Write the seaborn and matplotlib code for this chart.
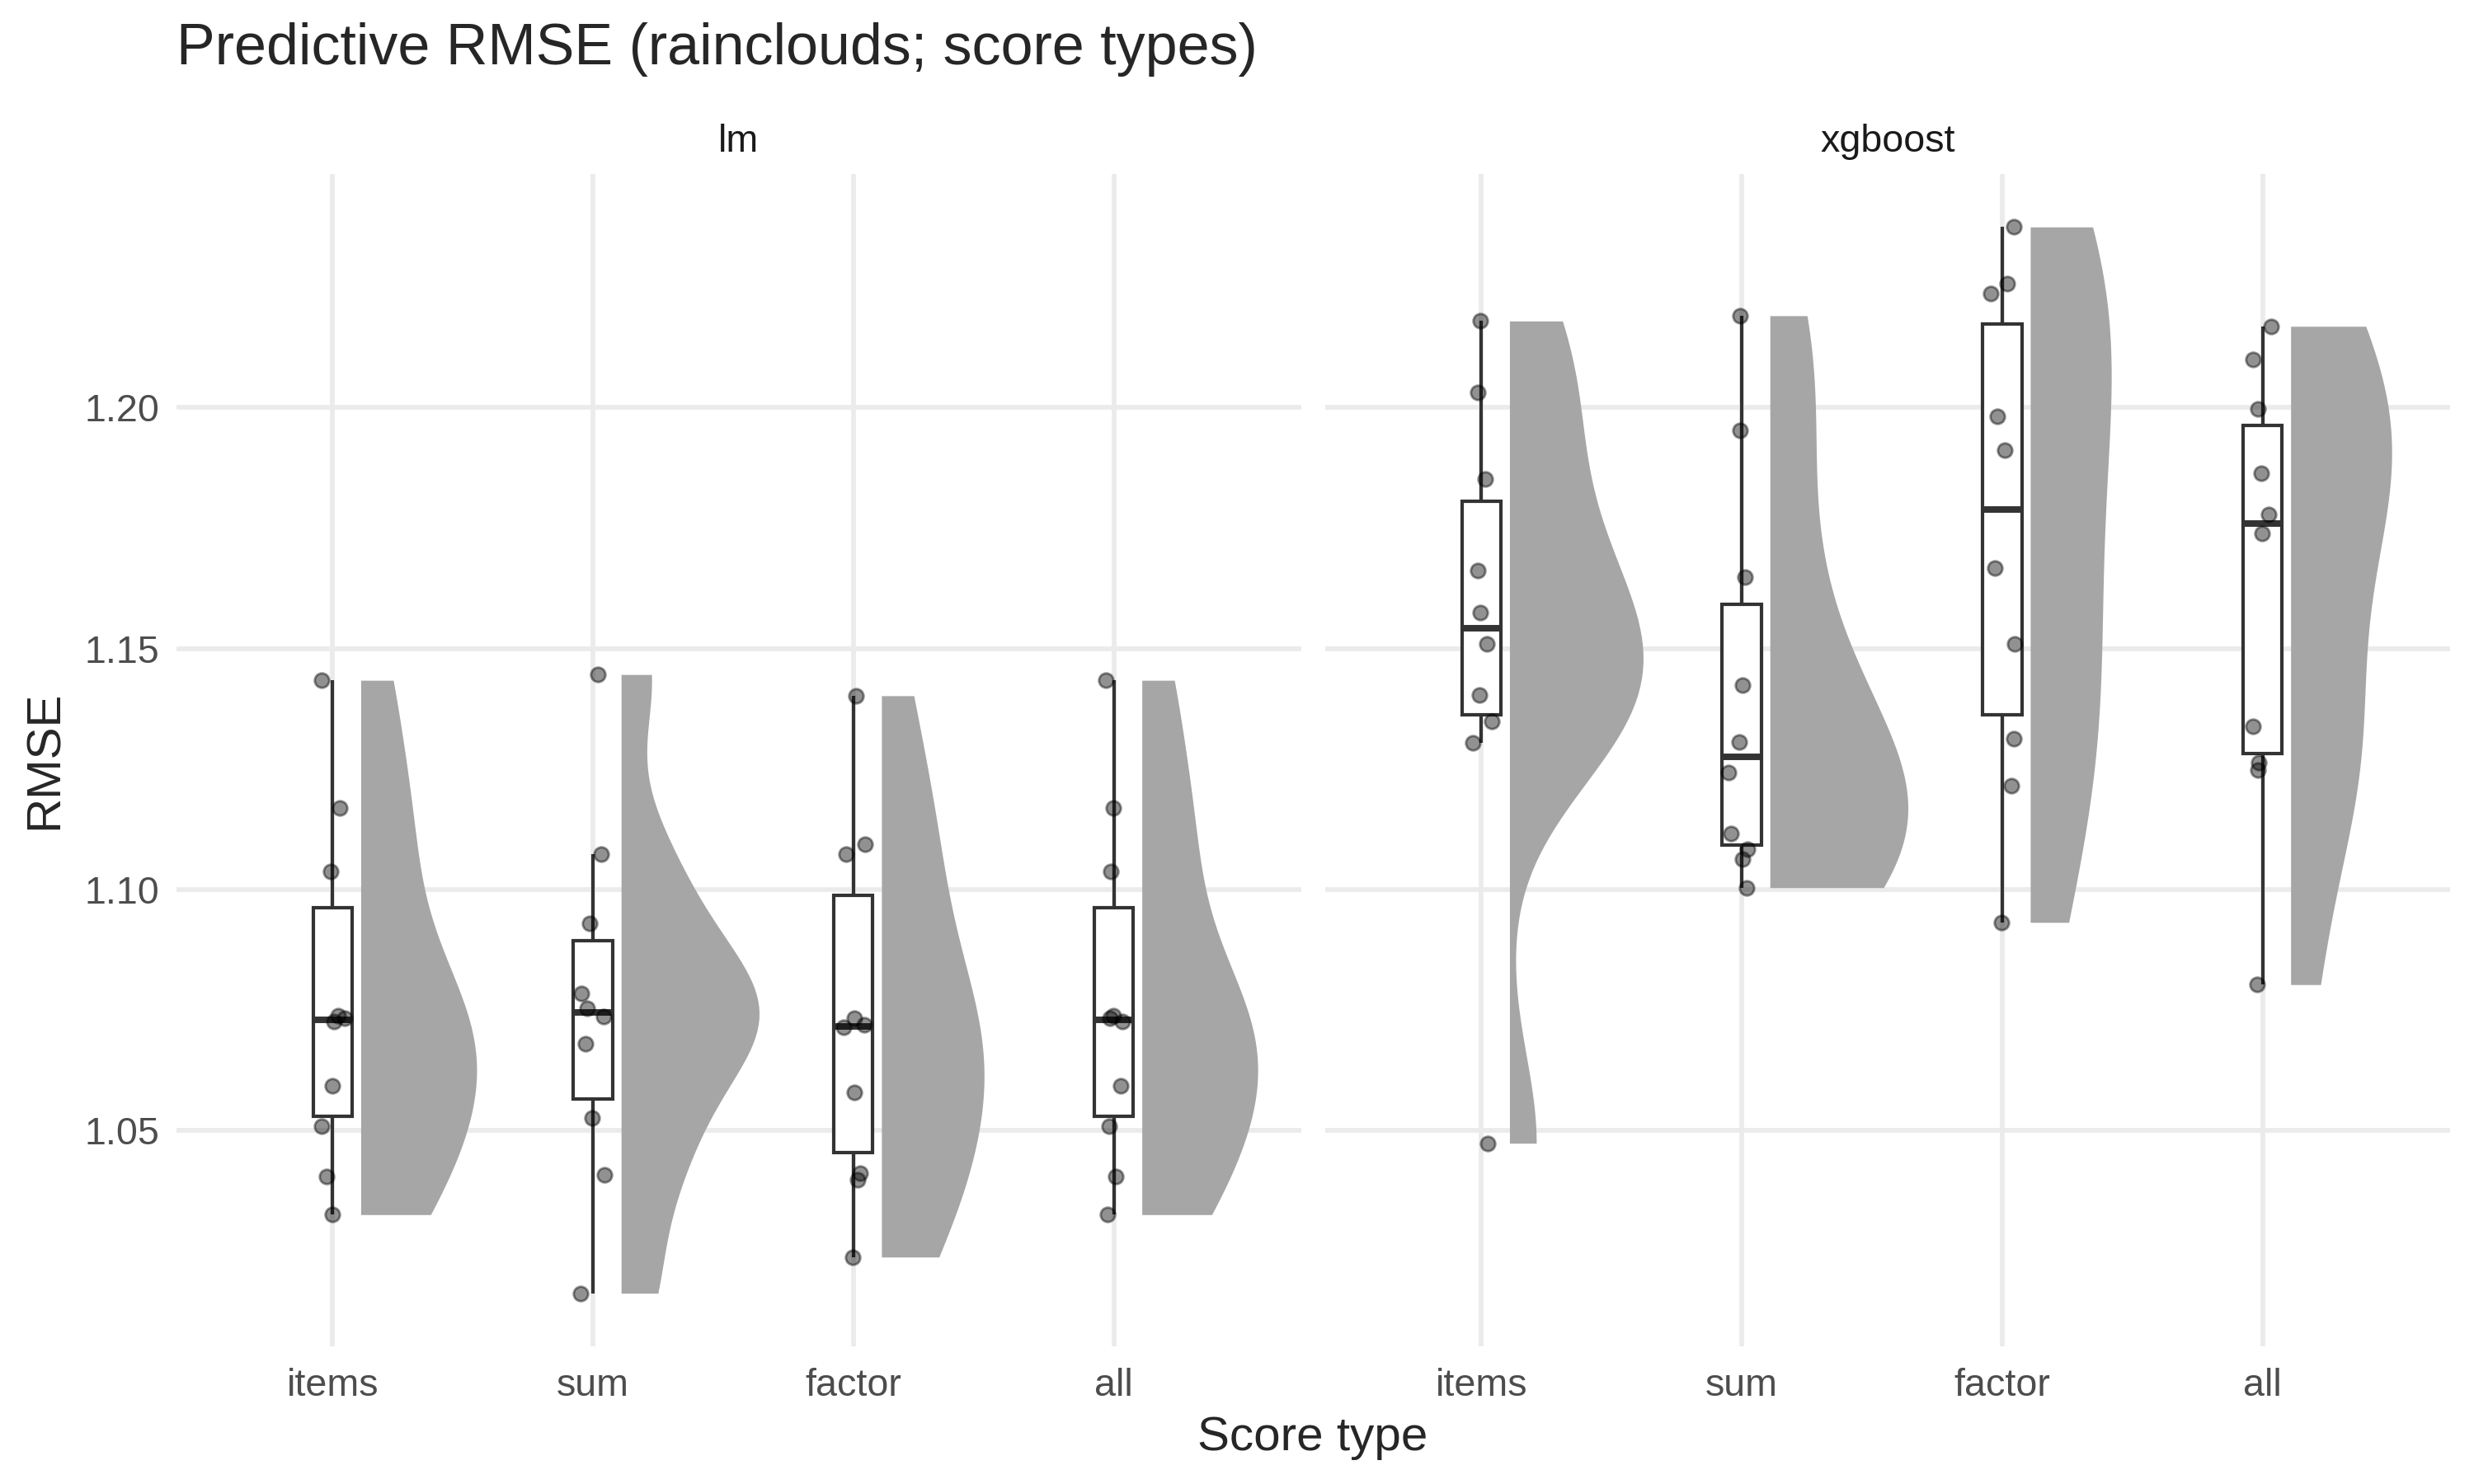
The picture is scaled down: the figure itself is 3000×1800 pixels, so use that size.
import matplotlib
matplotlib.use("Agg")
import matplotlib.pyplot as plt
import seaborn as sns
import numpy as np
import pandas as pd

sns.set_style("white")
plt.rcParams["font.family"] = ["Liberation Sans", "DejaVu Sans"]

# 读出来的数值 (每组10次重复)
score_types = ["items", "sum", "factor", "all"]
models = ["lm", "xgboost"]

lm_items = [1.1434, 1.1169, 1.1037, 1.0739, 1.0734, 1.0727, 1.0594, 1.0509, 1.0405, 1.0326]
lm_sum = [1.1446, 1.1074, 1.0930, 1.0785, 1.0754, 1.0736, 1.0680, 1.0527, 1.0408, 1.0163]
lm_factor = [1.1402, 1.1094, 1.1073, 1.0734, 1.0719, 1.0714, 1.0580, 1.0412, 1.0399, 1.0238]
lm_all = [1.1434, 1.1169, 1.1037, 1.0739, 1.0734, 1.0727, 1.0594, 1.0509, 1.0405, 1.0326]

xgb_items = [1.2179, 1.2031, 1.1852, 1.1662, 1.1575, 1.1509, 1.1403, 1.1349, 1.1305, 1.0474]
xgb_sum = [1.2190, 1.1952, 1.1648, 1.1424, 1.1306, 1.1243, 1.1117, 1.1084, 1.1064, 1.1004]
xgb_factor = [1.2374, 1.2257, 1.2236, 1.1981, 1.1911, 1.1666, 1.1509, 1.1313, 1.1216, 1.0932]
xgb_all = [1.2168, 1.2099, 1.1996, 1.1864, 1.1778, 1.1739, 1.1339, 1.1263, 1.1248, 1.0803]

rmse_values = {
    "lm": [lm_items, lm_sum, lm_factor, lm_all],
    "xgboost": [xgb_items, xgb_sum, xgb_factor, xgb_all],
}

rows = []
for m in models:
    for st, vals in zip(score_types, rmse_values[m]):
        for v in vals:
            rows.append({"model": m, "score_type": st, "rmse": v})
df = pd.DataFrame(rows)


# R 的 bw.nrd0 带宽
def nrd0(kde):
    x = kde.dataset.ravel()
    sd = x.std(ddof=1)
    iqr = np.subtract(*np.percentile(x, [75, 25]))
    bw = 0.9 * min(sd, iqr / 1.34) * x.size ** -0.2
    return bw / sd


GRID = "#EBEBEB"
LINE = "#333333"
VIOLIN_SHIFT = 0.108

fig, axes = plt.subplots(1, 2, figsize=(10, 6), dpi=300, sharey=True)
fig.subplots_adjust(left=0.0713, right=0.9903, bottom=0.0928, top=0.8828, wspace=0.0213)
np.random.seed(7)

for ax, m in zip(axes, models):
    sub = df[df["model"] == m]
    n0 = len(ax.collections)
    sns.violinplot(data=sub, x="score_type", y="rmse", order=score_types,
                   inner=None, cut=0, density_norm="area", width=1.06, bw_method=nrd0,
                   color="#A6A6A6", saturation=1, linewidth=0, ax=ax)
    # 只留右半边小提琴, 再往右挪一点
    for coll in ax.collections[n0:]:
        new_verts = []
        for p in coll.get_paths():
            v = p.vertices.copy()
            pos = np.round(v[:, 0].mean())
            v[:, 0] = pos + np.clip(v[:, 0] - pos, 0, None) + VIOLIN_SHIFT
            new_verts.append(v)
        coll.set_verts(new_verts)
    sns.boxplot(data=sub, x="score_type", y="rmse", order=score_types, width=0.15,
                color="white", saturation=1, linecolor=LINE, linewidth=1.0,
                showcaps=False, showfliers=False, medianprops={"linewidth": 1.9}, ax=ax)
    sns.stripplot(data=sub, x="score_type", y="rmse", order=score_types, jitter=0.05,
                  color="black", alpha=0.43, size=4.2, linewidth=0.7, edgecolor="black", ax=ax)
    ax.set_xlim(-0.6, 3.72)
    ax.set_ylim(1.0053, 1.2484)
    ax.set_yticks([1.05, 1.10, 1.15, 1.20])
    ax.set_yticklabels(["1.05", "1.10", "1.15", "1.20"])
    ax.grid(True, color=GRID, linewidth=1.37)
    ax.set_axisbelow(True)
    for s in ax.spines.values():
        s.set_visible(False)
    ax.tick_params(length=0, labelsize=11.2, labelcolor="#4D4D4D")
    ax.tick_params(axis="y", pad=5)
    ax.tick_params(axis="x", pad=6.2)
    ax.set_xlabel("")
    ax.set_ylabel("")
    pos = ax.get_position()
    fig.text((pos.x0 + pos.x1) / 2, 1 - 184 / 1800, m, ha="center", va="baseline",
             fontsize=11.2, color="#1A1A1A")

axes[0].set_ylabel("RMSE", fontsize=14, labelpad=5)
axes[1].tick_params(labelleft=False)
fig.text(0.5307, 1 - 1759 / 1800, "Score type", ha="center", va="baseline", fontsize=14)
fig.text(0.0715, 1 - 78 / 1800, "Predictive RMSE (rainclouds; score types)", ha="left",
         va="baseline", fontsize=16.8)

plt.savefig("out.png", dpi=300)
